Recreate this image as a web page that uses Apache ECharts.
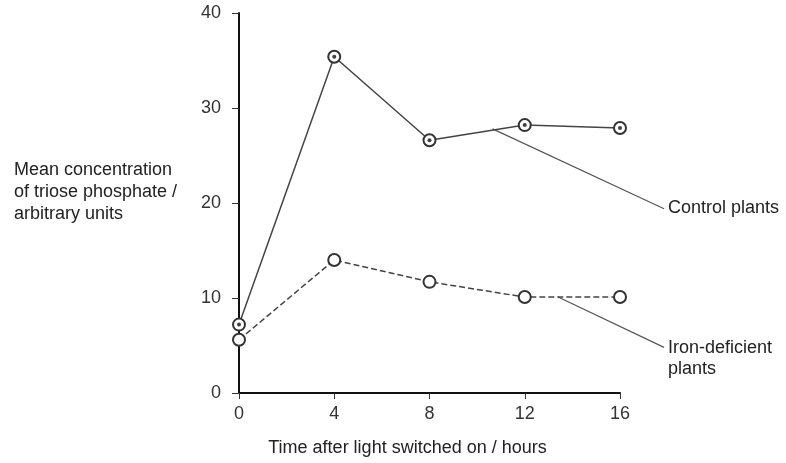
<!DOCTYPE html>
<html><head><meta charset="utf-8">
<script src="https://cdn.jsdelivr.net/npm/echarts@6/dist/echarts.min.js"></script>
<style>html,body{margin:0;padding:0;background:#fff}#c{width:786px;height:463px}</style>
</head><body><div id="c"></div>
<script>
var hours = [0, 4, 8, 12, 16];
var controlPlants = [7.2, 35.4, 26.6, 28.2, 27.9];
var ironDeficient = [5.6, 14.0, 11.7, 10.1, 10.1];
var yTicks = [0, 10, 20, 30, 40];

var chart = echarts.init(document.getElementById('c'));
var font = 'Liberation Sans, Arial, sans-serif';
function pairs(v){ return hours.map(function(h,i){ return [h, v[i]]; }); }
var opt = {
  animation: false,
  backgroundColor: '#fff',
  grid: {left: 239, right: 166, top: 13, bottom: 70, containLabel: false},
  xAxis: {
    type: 'value', min: 0, max: 16, interval: 4,
    name: 'Time after light switched on / hours', nameLocation: 'middle', nameGap: 46,
    nameTextStyle: {fontFamily: font, fontSize: 18, color: '#222', padding: [0, 44, 0, 0]},
    axisLine: {lineStyle: {color: '#111', width: 2}},
    axisTick: {show: true, length: 6, lineStyle: {color: '#333', width: 1}},
    axisLabel: {fontFamily: font, fontSize: 18, color: '#333', margin: 12},
    splitLine: {show: false}
  },
  yAxis: {
    type: 'value', min: 0, max: 40, interval: 10,
    axisLine: {show: true, lineStyle: {color: '#111', width: 2}},
    axisTick: {show: true, length: 7, lineStyle: {color: '#333', width: 1}},
    axisLabel: {fontFamily: font, fontSize: 18, color: '#333', margin: 18},
    splitLine: {show: false}
  },
  series: [
    {type: 'line', name: 'Control plants', data: pairs(controlPlants), clip: false,
     symbol: 'emptyCircle', symbolSize: 12,
     lineStyle: {color: '#444', width: 1.5},
     itemStyle: {color: '#333', borderWidth: 1.5}, z: 3},
    {type: 'scatter', data: pairs(controlPlants), symbolSize: 4,
     itemStyle: {color: '#111'}, z: 5, silent: true},
    {type: 'line', name: 'Iron-deficient plants', data: pairs(ironDeficient), clip: false,
     symbol: 'emptyCircle', symbolSize: 12,
     lineStyle: {color: '#444', width: 1.5, type: [6, 3]},
     itemStyle: {color: '#333', borderWidth: 1.5}, z: 3}
  ]
};
chart.setOption(opt);

// annotations placed via the chart's own scales
function px(x, y){ return chart.convertToPixel({gridIndex: 0}, [x, y]); }
var cA = px(10.65, 27.8), cB = px(17.85, 19.4);
var iA = px(13.4, 10.1), iB = px(17.85, 4.8);
chart.setOption({
  graphic: [
    {type: 'line', shape: {x1: cA[0], y1: cA[1], x2: cB[0], y2: cB[1]}, style: {stroke: '#555', lineWidth: 1.2}},
    {type: 'line', shape: {x1: iA[0], y1: iA[1], x2: iB[0], y2: iB[1]}, style: {stroke: '#555', lineWidth: 1.2}},
    {type: 'text', left: cB[0] + 4, top: cB[1] - 10, style: {text: 'Control plants', font: '18px ' + font, fill: '#222'}},
    {type: 'text', left: iB[0] + 4, top: iB[1] - 10, style: {text: 'Iron-deficient\nplants', font: '18px ' + font, fill: '#222', lineHeight: 21}},
    {type: 'text', left: 14, top: 159, style: {text: 'Mean concentration\nof triose phosphate /\narbitrary units', font: '18px ' + font, fill: '#222', lineHeight: 22}}
  ]
});
</script></body></html>
